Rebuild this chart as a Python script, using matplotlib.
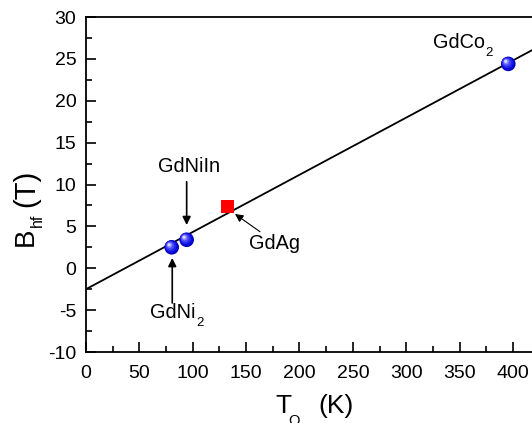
import matplotlib
matplotlib.use("Agg")
import matplotlib.pyplot as plt
from matplotlib.transforms import offset_copy
import numpy as np

# ---- data ----
names = ["GdNi", "GdNiIn", "GdAg", "GdCo"]
name_subs = ["2", "", "", "2"]
t_q = [80.3, 94.3, 132.4, 395.6]          # K
b_hf = [2.5, 3.4, 7.35, 24.4]              # T
is_sphere = [True, True, False, True]
fit_intercept = -2.5
fit_slope = 0.0683
fit_x = [0, 450]

xticks = [0, 50, 100, 150, 200, 250, 300, 350, 400]
yticks = [-10, -5, 0, 5, 10, 15, 20, 25, 30]

# label/arrow positions (data coords)
label_pos = [(60.0, -5.94), (96.5, 11.53), (152.7, 2.30), (324.8, 26.3)]
label_ha = ["left", "center", "left", "left"]
arrows = [((80.8, -4.15), (80.8, 1.22), 1.2),
          ((94.3, 10.33), (94.3, 5.16), 1.2),
          ((163.0, 4.36), (139.6, 6.48), 0.8)]

plt.rcParams['font.family'] = ['Liberation Sans', 'DejaVu Sans']
plt.rcParams['axes.unicode_minus'] = False

W, H = 532, 423
fig = plt.figure(figsize=(W/100, H/100), dpi=100)
x0, x1 = 0, 450
ppu_x = 1.0675
ax = fig.add_axes([86/W, (423-352)/H, (x1-x0)*ppu_x/W, (352-17)/H])
ax.set_xlim(x0, x1)
ax.set_ylim(-10, 30)

# fit line
fx = np.array(fit_x, dtype=float)
ax.plot(fx, fit_intercept + fit_slope*fx, color='black', lw=1.3, zorder=2)

# markers
sx = [x for x, s in zip(t_q, is_sphere) if s]
sy = [y for y, s in zip(b_hf, is_sphere) if s]
qx = [x for x, s in zip(t_q, is_sphere) if not s]
qy = [y for y, s in zip(b_hf, is_sphere) if not s]

ax.scatter(sx, sy, s=110, color='#0000b8', edgecolors='none', zorder=3)
layers = [(88, '#0c0cd8', -0.35, 0.35), (62, '#2222ee', -0.75, 0.75),
          (36, '#4848fc', -1.15, 1.15), (16, '#8585ff', -1.55, 1.55), (5, '#d8d8ff', -1.85, 1.85)]
for s, c, dx, dy in layers:
    tr = offset_copy(ax.transData, fig=fig, x=dx, y=dy, units='points')
    ax.scatter(sx, sy, s=s, color=c, edgecolors='none', zorder=3, transform=tr)

ax.scatter(qx, qy, s=95, marker='s', color='#ff0000', edgecolors='none', zorder=3)

renderer = fig.canvas.get_renderer()

# annotations
for n, sb, (px, py), ha in zip(names, name_subs, label_pos, label_ha):
    t = ax.text(px, py, n, fontsize=14.3, ha=ha, va='baseline', zorder=4)
    if sb:
        bb = t.get_window_extent(renderer)
        bx, by = ax.transData.transform((px, py))
        fig.text((bb.x1 + 0.5)/W, (by - 8)/H, sb, fontsize=9.5, ha='left', va='baseline')
for tail, tip, lw in arrows:
    ax.annotate('', xy=tip, xytext=tail,
                arrowprops=dict(arrowstyle='-|>', color='black', lw=lw,
                                mutation_scale=12, shrinkA=0, shrinkB=0))

# axes styling
for sp in ax.spines.values():
    sp.set_linewidth(1.3)
ax.set_xticks(xticks)
ax.set_yticks(yticks)
ax.set_xticks(np.arange(25, 450, 50), minor=True)
ax.set_yticks(np.arange(-7.5, 30, 5), minor=True)
ax.tick_params(which='major', direction='in', length=7, width=1.2, labelsize=14)
ax.tick_params(axis='x', which='major', pad=9)
ax.tick_params(axis='y', which='major', pad=7)
ax.tick_params(which='minor', direction='in', length=4, width=1.2)
ax.tick_params(top=False, right=False, which='both')

# y label: B_hf  (T)
tb = fig.text(33/W, 1 - 246/H, 'B', rotation=90, rotation_mode='anchor',
              ha='left', va='baseline', fontsize=20)
bb = tb.get_window_extent(renderer)
th = fig.text(42/W, (bb.y1 + 0.5)/H, 'hf', rotation=90, rotation_mode='anchor',
              ha='left', va='baseline', fontsize=11.5)
fig.text(34/W, 1 - 207/H, '(T)', rotation=90, rotation_mode='anchor',
         ha='left', va='baseline', fontsize=21)

# x label: T_Q  (K)
tt = fig.text(275/W, (H-413)/H, 'T', fontsize=19, ha='left', va='baseline')
fig.text(288/W, (H-425)/H, 'Q', fontsize=10.5, ha='left', va='baseline')
fig.text(318/W, (H-413)/H, '(K)', fontsize=19, ha='left', va='baseline')

fig.savefig('out.png', dpi=100)
